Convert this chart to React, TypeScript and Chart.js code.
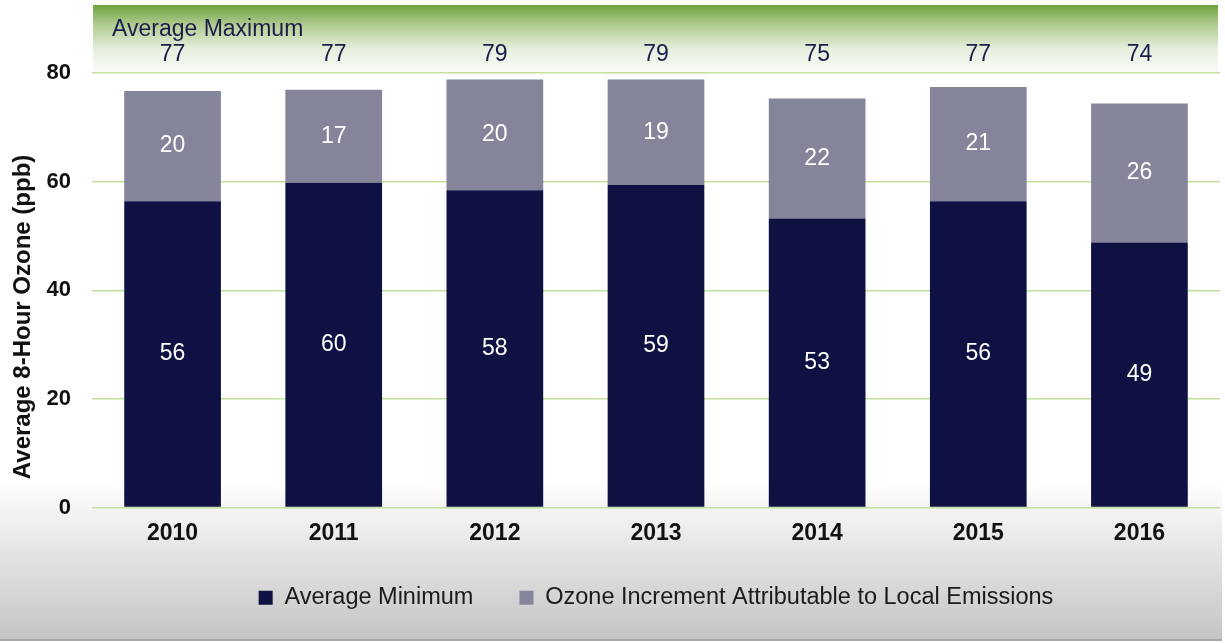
import React, { useEffect, useRef } from "react";
import { Chart, registerables } from "chart.js";

Chart.register(...registerables);

const years = ["2010", "2011", "2012", "2013", "2014", "2015", "2016"];
const averageMinimum = [56.4, 59.8, 58.4, 59.4, 53.2, 56.4, 48.8];
const localIncrement = [20.3, 17.1, 20.4, 19.4, 22.1, 21.0, 25.6];
const averageMaximum = [77, 77, 79, 79, 75, 77, 74];
const yTicks = [0, 20, 40, 60, 80];

const FONT = "'Liberation Sans', Arial, sans-serif";
const NAVY = "#0e1142";
const GRAY = "#84849a";
const LABEL_NAVY = "#1b1e4b";

const backgroundPlugin = {
  id: "bgPlugin",
  beforeDraw(chart: any) {
    const { ctx, width, height, chartArea } = chart;
    ctx.save();
    ctx.fillStyle = "#ffffff";
    ctx.fillRect(0, 0, width, height);
    const g = ctx.createLinearGradient(0, 480, 0, height);
    g.addColorStop(0, "#ffffff");
    g.addColorStop(1, "#c3c3c3");
    ctx.fillStyle = g;
    ctx.fillRect(0, 480, width - 3, height - 480 - 3);
    ctx.fillStyle = "#a8a8a8";
    ctx.fillRect(0, height - 4, width - 3, 2);
    // green band above plot area
    const top = 5;
    const bottom = chartArea.top;
    const gg = ctx.createLinearGradient(0, top, 0, bottom);
    gg.addColorStop(0, "#72a23e");
    gg.addColorStop(0.3, "#b0cd92");
    gg.addColorStop(0.65, "#e6efdd");
    gg.addColorStop(1, "#fbfcfa");
    ctx.fillStyle = gg;
    ctx.fillRect(chartArea.left + 1, top, chartArea.right - chartArea.left - 3, bottom - top);
    ctx.restore();
  },
};

const labelsPlugin = {
  id: "labelsPlugin",
  afterDatasetsDraw(chart: any) {
    const { ctx } = chart;
    ctx.save();
    ctx.font = `23px ${FONT}`;
    ctx.textAlign = "center";
    ctx.textBaseline = "middle";
    ctx.fillStyle = "#ffffff";
    chart.data.datasets.forEach((ds: any, di: number) => {
      const meta = chart.getDatasetMeta(di);
      meta.data.forEach((bar: any, i: number) => {
        const v = ds.data[i];
        const cy = (bar.y + bar.base) / 2;
        ctx.fillText(String(Math.round(v)), bar.x, cy);
      });
    });
    // Average maximum labels in the top band
    const xScale = chart.scales.x;
    ctx.fillStyle = LABEL_NAVY;
    averageMaximum.forEach((v, i) => {
      ctx.fillText(String(v), xScale.getPixelForValue(i), 55);
    });
    ctx.textAlign = "left";
    ctx.fillText("Average Maximum", 112, 30);
    ctx.restore();
  },
};

export default function App() {
  const ref = useRef<HTMLCanvasElement>(null);

  useEffect(() => {
    if (!ref.current) return;
    const chart = new Chart(ref.current, {
      type: "bar",
      data: {
        labels: years,
        datasets: [
          {
            label: "Average Minimum",
            data: averageMinimum,
            backgroundColor: NAVY,
            borderWidth: 0,
            barPercentage: 0.6,
            categoryPercentage: 1,
          },
          {
            label: "Ozone Increment Attributable to Local Emissions",
            data: localIncrement,
            backgroundColor: GRAY,
            borderWidth: 0,
            barPercentage: 0.6,
            categoryPercentage: 1,
          },
        ],
      },
      options: {
        responsive: false,
        animation: false,
        devicePixelRatio: 1,
        layout: { padding: { top: 73, bottom: 23.5, left: 0, right: 5 } },
        scales: {
          x: {
            stacked: true,
            grid: { display: false, drawTicks: false },
            border: { display: false },
            ticks: {
              padding: 12,
              color: "#111111",
              font: { family: FONT, size: 23, weight: "bold" },
            },
            afterFit: (s: any) => {
              s.height = 58.5;
            },
          },
          y: {
            stacked: true,
            min: 0,
            max: 80,
            afterBuildTicks: (s: any) => {
              s.ticks = yTicks.map((v) => ({ value: v }));
            },
            grid: { color: "#c4e09c", lineWidth: 1.5, drawTicks: false },
            border: { display: false },
            ticks: {
              padding: 21,
              color: "#111111",
              font: { family: FONT, size: 22, weight: "bold" },
            },
            title: {
              display: true,
              text: "Average 8-Hour Ozone (ppb)        ",
              color: "#111111",
              font: { family: FONT, size: 24, weight: "bold" },
              padding: { top: 9, bottom: 0 },
            },
            afterFit: (s: any) => {
              s.width = 92;
            },
          },
        },
        plugins: {
          legend: {
            position: "bottom",
            fullSize: false,
            labels: {
              boxWidth: 14,
              boxHeight: 14,
              padding: 20,
              color: "#1a1a1a",
              font: { family: FONT, size: 23.5 },
              generateLabels: (c: any) => {
                const items = Chart.defaults.plugins.legend.labels.generateLabels(c);
                if (items[0]) items[0].text = items[0].text + "    ";
                return items;
              },
            },
          },
          tooltip: { enabled: false },
        },
      } as any,
      plugins: [backgroundPlugin, labelsPlugin],
    });
    return () => chart.destroy();
  }, []);

  return (
    <div style={{ position: "fixed", left: 0, top: 0, width: 1225, height: 643 }}>
      <canvas ref={ref} width={1225} height={643} style={{ width: 1225, height: 643, display: "block" }} />
    </div>
  );
}
